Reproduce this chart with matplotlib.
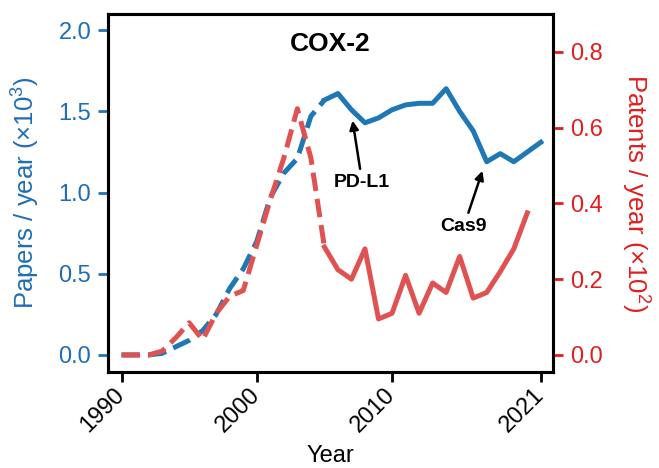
import matplotlib
matplotlib.use("Agg")
import matplotlib.pyplot as plt

plt.rcParams["font.family"] = ["Liberation Sans", "DejaVu Sans"]
plt.rcParams["mathtext.fontset"] = "custom"
plt.rcParams["mathtext.rm"] = "Liberation Sans"
plt.rcParams["mathtext.it"] = "Liberation Sans:italic"

# papers per year (x10^3), left axis
paper_years = list(range(1990, 2022))
papers = [0.0, 0.0, 0.0, 0.01, 0.05, 0.09, 0.15, 0.25, 0.41, 0.53, 0.70,
          0.97, 1.12, 1.21, 1.47, 1.57, 1.61, 1.51, 1.43, 1.46, 1.51, 1.54,
          1.55, 1.55, 1.64, 1.50, 1.38, 1.19, 1.24, 1.19, 1.25, 1.31]
# patents per year (x10^2), right axis
patent_years = list(range(1990, 2021))
patents = [0.0, 0.0, 0.0, 0.01, 0.045, 0.085, 0.04, 0.11, 0.155, 0.17, 0.29,
           0.41, 0.52, 0.65, 0.52, 0.285, 0.225, 0.20, 0.28, 0.095, 0.11, 0.21,
           0.11, 0.19, 0.165, 0.26, 0.15, 0.165, 0.22, 0.28, 0.375]
split_year = 2005  # dashed before, solid after

x_ticks = [1990, 2000, 2010, 2021]
left_ticks = [0.0, 0.5, 1.0, 1.5, 2.0]
right_ticks = [0.0, 0.2, 0.4, 0.6, 0.8]

BLUE = "#1f77b4"
BLUE_TXT = "#1f6db4"
RED = "#e05252"
RED_TXT = "#e01e1e"

fig = plt.figure(figsize=(6.59, 4.68), dpi=100)
ax = fig.add_axes([108 / 659, 96 / 468, 445 / 659, 358 / 468])
ax2 = ax.twinx()

i = paper_years.index(split_year)
ax.plot(paper_years[:i + 1], papers[:i + 1], color=BLUE, lw=3.6, ls="--")
ax.plot(paper_years[i:], papers[i:], color=BLUE, lw=3.6)
j = patent_years.index(split_year)
ax2.plot(patent_years[:j + 1], patents[:j + 1], color=RED, lw=3.6, ls="--")
ax2.plot(patent_years[j:], patents[j:], color=RED, lw=3.6)

ax.set_xlim(1989, 2021.9)
ax.set_ylim(-0.105, 2.1)
ax2.set_ylim(-0.045, 0.9)

ax.set_xticks(x_ticks)
ax.set_yticks(left_ticks)
ax2.set_yticks(right_ticks)
ax.set_xticklabels([str(y) for y in x_ticks], rotation=45, ha="right",
                   rotation_mode="anchor", va="center")

for a in (ax, ax2):
    for s in a.spines.values():
        s.set_linewidth(2.2)
ax.tick_params(axis="x", length=7, width=2, labelsize=17, pad=7)
ax.tick_params(axis="y", length=7, width=2, labelsize=17, pad=5,
               color=BLUE, labelcolor=BLUE_TXT)
ax2.tick_params(axis="y", length=7, width=2, labelsize=17, pad=5,
                color=RED_TXT, labelcolor=RED_TXT)

ax.set_xlabel("Year", fontsize=17, labelpad=6)
ax.set_ylabel("Papers / year (×10$^3$)", fontsize=18.5, color=BLUE_TXT, labelpad=12)
ax2.set_ylabel("Patents / year (×10$^2$)", fontsize=18.5, color=RED_TXT,
               rotation=270, va="bottom", labelpad=12)

ax.text(0.5, 0.916, "COX-2", transform=ax.transAxes, ha="center", va="center",
        fontsize=19, fontweight="bold")
arrow = dict(arrowstyle="-|>", color="black", lw=1.8, mutation_scale=13)
ax.annotate("PD-L1", xy=(2007.05, 1.46), xytext=(2007.8, 1.06),
            ha="center", va="center", fontsize=14, fontweight="bold",
            arrowprops=arrow)
ax.annotate("Cas9", xy=(2016.75, 1.15), xytext=(2015.3, 0.79),
            ha="center", va="center", fontsize=14, fontweight="bold",
            arrowprops=arrow)

fig.savefig("out.png", dpi=100)
